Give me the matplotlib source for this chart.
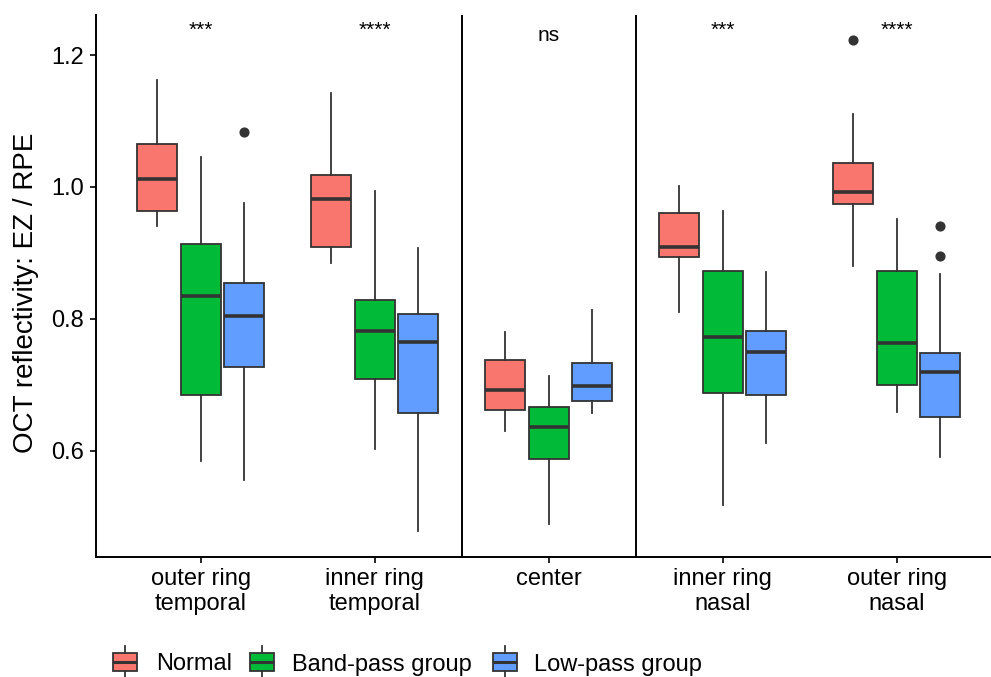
import matplotlib
matplotlib.use("Agg")
import matplotlib.pyplot as plt
from matplotlib.patches import Rectangle
from matplotlib.lines import Line2D

plt.rcParams['font.family'] = ['Liberation Sans', 'DejaVu Sans']

# ---------------- data ----------------
categories = ["outer ring\ntemporal", "inner ring\ntemporal", "center",
              "inner ring\nnasal", "outer ring\nnasal"]
groups = ["Normal", "Band-pass group", "Low-pass group"]
colors = ["#F8766D", "#00BA38", "#619CFF"]
sig_labels = ["***", "****", "ns", "***", "****"]
yticks = [0.6, 0.8, 1.0, 1.2]
ytick_labels = ["0.6", "0.8", "1.0", "1.2"]

normal_whislo = [0.940, 0.884, 0.630, 0.810, 0.880]
normal_q1 = [0.963, 0.909, 0.661, 0.893, 0.974]
normal_med = [1.012, 0.982, 0.692, 0.909, 0.993]
normal_q3 = [1.065, 1.018, 0.737, 0.960, 1.037]
normal_whishi = [1.162, 1.143, 0.780, 1.002, 1.111]
normal_fliers = [[], [], [], [], [1.223]]

band_whislo = [0.585, 0.602, 0.489, 0.517, 0.658]
band_q1 = [0.684, 0.709, 0.587, 0.687, 0.699]
band_med = [0.835, 0.782, 0.636, 0.772, 0.764]
band_q3 = [0.914, 0.828, 0.667, 0.873, 0.872]
band_whishi = [1.046, 0.994, 0.714, 0.964, 0.951]
band_fliers = [[], [], [], [], []]

low_whislo = [0.555, 0.478, 0.657, 0.612, 0.591]
low_q1 = [0.727, 0.657, 0.676, 0.685, 0.651]
low_med = [0.805, 0.765, 0.698, 0.750, 0.719]
low_q3 = [0.855, 0.808, 0.733, 0.781, 0.748]
low_whishi = [0.976, 0.907, 0.813, 0.871, 0.868]
low_fliers = [[1.083], [], [], [], [0.941, 0.896]]

series = [
    (normal_whislo, normal_q1, normal_med, normal_q3, normal_whishi, normal_fliers),
    (band_whislo, band_q1, band_med, band_q3, band_whishi, band_fliers),
    (low_whislo, low_q1, low_med, low_q3, low_whishi, low_fliers),
]

# ---------------- layout ----------------
W, H = 991, 677
fig = plt.figure(figsize=(W / 100, H / 100), dpi=100)
left_px, top_px, bottom_px = 96.3, 15.0, 556.7
cat_px = 174.0
ax = fig.add_axes([left_px / W, (H - bottom_px) / H, (W - left_px) / W,
                   (bottom_px - top_px) / H])

edge = "#333333"
offsets = [-0.25, 0.0, 0.25]
for gi, (wlo, q1, med, q3, whi, fl) in enumerate(series):
    stats = []
    for i in range(len(categories)):
        stats.append(dict(med=med[i], q1=q1[i], q3=q3[i], whislo=wlo[i],
                          whishi=whi[i], fliers=fl[i]))
    positions = [i + 1 + offsets[gi] for i in range(len(categories))]
    ax.bxp(stats, positions=positions, widths=0.228, patch_artist=True,
           showcaps=False, manage_ticks=False,
           boxprops=dict(facecolor=colors[gi], edgecolor=edge, linewidth=1.3),
           medianprops=dict(color=edge, linewidth=2.6, solid_capstyle="butt"),
           whiskerprops=dict(color=edge, linewidth=1.3),
           flierprops=dict(marker="o", markerfacecolor=edge,
                           markeredgecolor=edge, markersize=6.3))

for xv in (2.5, 3.5):
    ax.axvline(xv, color="black", lw=1.4)

for i, lab in enumerate(sig_labels):
    ybase = 1.222 if lab == "ns" else 1.229
    ax.text(i + 1, ybase, lab, ha="center", va="baseline", fontsize=15)

ax.set_xlim(0.4, 0.4 + (W - left_px) / cat_px)
ax.set_ylim(0.4393, 1.2607)
ax.set_yticks(yticks)
ax.set_yticklabels(ytick_labels)
ax.set_xticks(range(1, len(categories) + 1))
ax.set_xticklabels(categories)
for lab in ax.get_xticklabels():
    lab.set_linespacing(1.2)
ax.tick_params(axis="both", length=4.5, width=1.2, color="black",
               labelsize=17, labelcolor="black")
ax.tick_params(axis="y", pad=4.5)
ax.tick_params(axis="x", pad=3.5)
for s in ("top", "right"):
    ax.spines[s].set_visible(False)
for s in ("left", "bottom"):
    ax.spines[s].set_linewidth(1.4)
    ax.spines[s].set_color("black")

ax.set_ylabel("OCT reflectivity: EZ / RPE", fontsize=20, va="center")
ax.yaxis.set_label_coords((26 - left_px) / (W - left_px),
                          (bottom_px - 292.5) / (bottom_px - top_px))

# ---------------- legend (bottom) ----------------
def fx(x):
    return x / W

def fy(y):
    return 1 - y / H

shift = 4.0
key_x = [113.3, 250.0, 493.3]
key_w = 23.6
text_x = [155.7, 292.3, 534.5]
box_top, box_bot, key_mid = 656.7 - shift, 674.7 - shift, 665.7 - shift
for gi in range(len(groups)):
    x0 = key_x[gi]
    cx = x0 + key_w / 2
    fig.add_artist(Line2D([fx(cx), fx(cx)], [fy(650.0 - shift), fy(box_top)],
                          transform=fig.transFigure, color=edge, lw=1.3))
    fig.add_artist(Line2D([fx(cx), fx(cx)], [fy(box_bot), fy(682.0 - shift)],
                          transform=fig.transFigure, color=edge, lw=1.3))
    fig.add_artist(Rectangle((fx(x0), fy(box_bot)), key_w / W,
                             (box_bot - box_top) / H, transform=fig.transFigure,
                             facecolor=colors[gi], edgecolor=edge, lw=1.3))
    fig.add_artist(Line2D([fx(x0), fx(x0 + key_w)], [fy(key_mid), fy(key_mid)],
                          transform=fig.transFigure, color=edge, lw=2.2,
                          solid_capstyle="butt"))
    fig.text(fx(text_x[gi]), fy(674.5 - shift), groups[gi], fontsize=17,
             ha="left", va="baseline")

fig.savefig("out.png", dpi=100)
